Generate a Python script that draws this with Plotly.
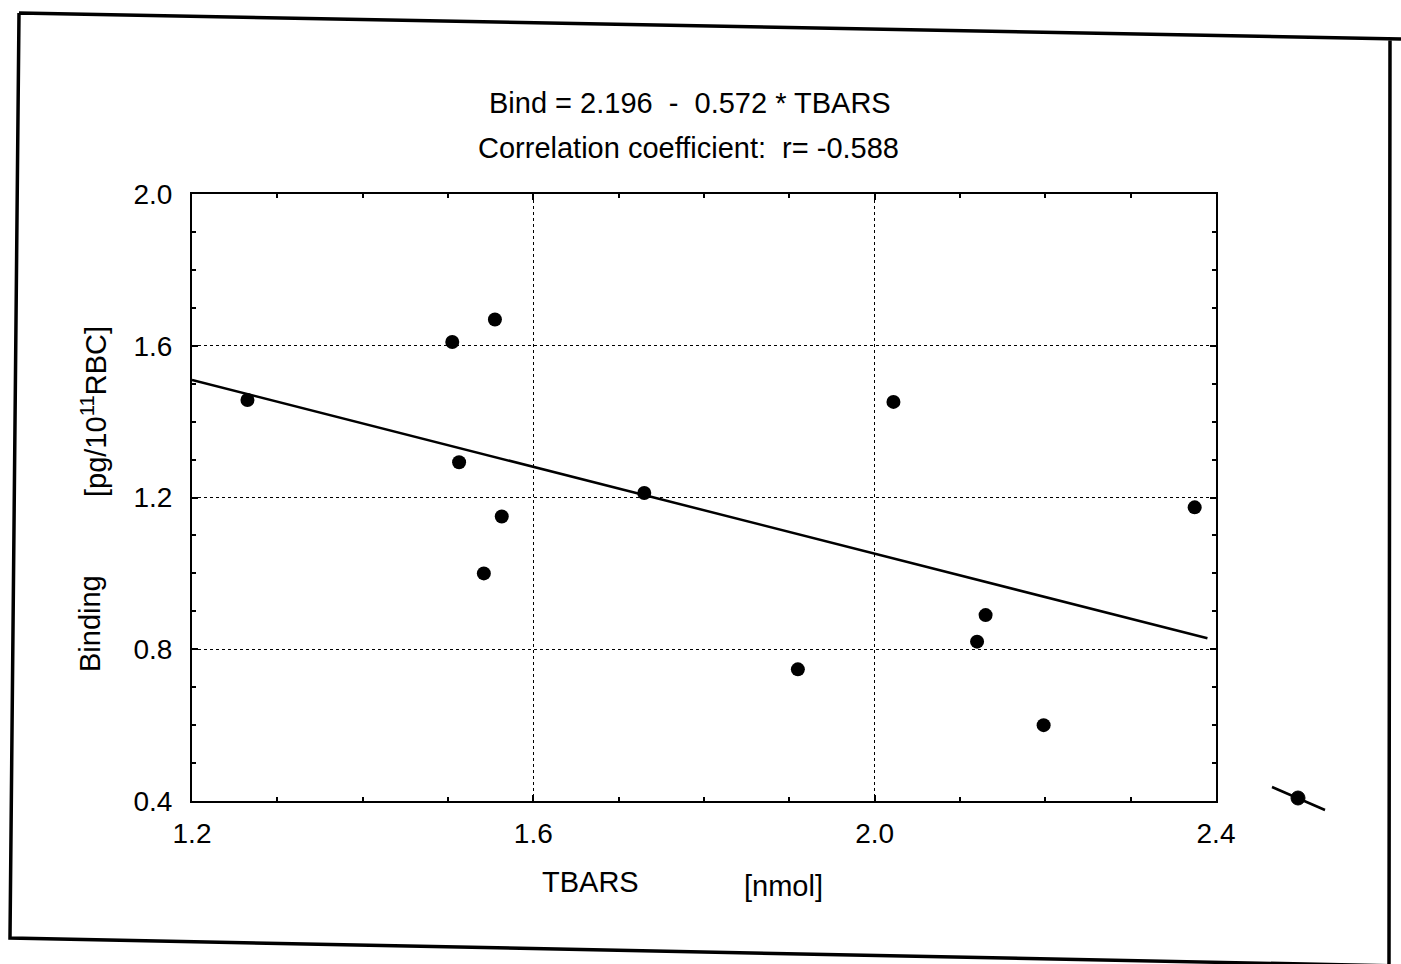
import plotly.graph_objects as go

# ---- data ----
tbars = [1.265, 1.505, 1.555, 1.513, 1.563, 1.542, 1.73, 2.022, 1.91, 2.13, 2.12, 2.198, 2.375]
binding = [1.457, 1.61, 1.669, 1.293, 1.15, 1.0, 1.212, 1.452, 0.747, 0.89, 0.82, 0.60, 1.174]
intercept = 2.196
slope = -0.572
fit_x = [1.2, 2.39]
fit_y = [intercept + slope * v for v in fit_x]
x_ticks = [1.2, 1.6, 2.0, 2.4]
y_ticks = [0.4, 0.8, 1.2, 1.6, 2.0]

W, H = 1401, 964
L, R, T, B = 192, 1216, 194, 801
FONT = "Liberation Sans, Arial, sans-serif"


def px(x):
    return (x - L) / (R - L)


def py(y):
    return (B - y) / (B - T)


fig = go.Figure()
fig.add_trace(go.Scatter(x=fit_x, y=fit_y, mode="lines",
                         line=dict(color="black", width=2.5), showlegend=False))
fig.add_trace(go.Scatter(x=tbars, y=binding, mode="markers",
                         marker=dict(color="black", size=14), showlegend=False))

axis_common = dict(
    showline=True, linecolor="black", linewidth=2, mirror="allticks",
    showgrid=True, gridcolor="black", griddash="dot", gridwidth=1.3,
    ticks="inside", ticklen=6, tickcolor="black", tickwidth=1.5,
    tickformat=".1f", zeroline=False,
    tickfont=dict(family=FONT, size=28, color="black"),
    minor=dict(dtick=0.1, ticks="inside", ticklen=4, tickcolor="black", showgrid=False),
)
fig.update_xaxes(range=[1.2, 2.4], tickvals=x_ticks, ticklabelstandoff=6, **axis_common)
fig.update_yaxes(range=[0.4, 2.0], tickvals=y_ticks, ticklabelstandoff=12, **axis_common)

ann = [
    dict(text="Bind = 2.196  -  0.572 * TBARS", x=px(690), y=py(103), size=29),
    dict(text="Correlation coefficient:  r= -0.588", x=px(688), y=py(148), size=29),
    dict(text="TBARS", x=px(590), y=py(882), size=29),
    dict(text="[nmol]", x=px(783), y=py(886), size=29),
    dict(text="Binding", x=px(90), y=py(624), size=29, angle=-90),
    dict(text="[pg/10<sup>11</sup>RBC]", x=px(94), y=py(412), size=29, angle=-90),
]
annotations = []
for a in ann:
    annotations.append(dict(
        text=a["text"], x=a["x"], y=a["y"], xref="paper", yref="paper",
        xanchor="center", yanchor="middle", showarrow=False,
        textangle=a.get("angle", 0),
        font=dict(family=FONT, size=a["size"], color="black"),
    ))

# scanned page border
border_path = "M {},{} L {},{} M {},{} L {},{} M {},{} L {},{} L {},{}".format(
    px(19), py(13), px(1401), py(39),
    px(1390), py(40), px(1389), py(964),
    px(1401), py(966), px(10), py(938), px(19), py(13),
)
shapes = [
    dict(type="path", xref="paper", yref="paper", path=border_path,
         line=dict(color="black", width=3.5)),
    # legend-like symbol at bottom right
    dict(type="line", xref="paper", yref="paper",
         x0=px(1272), y0=py(787), x1=px(1325), y1=py(810),
         line=dict(color="black", width=2.5)),
    dict(type="circle", xref="paper", yref="paper",
         x0=px(1291), y0=py(791), x1=px(1305), y1=py(805),
         fillcolor="black", line=dict(color="black", width=1)),
]

fig.update_layout(
    width=W, height=H,
    margin=dict(l=L, r=W - R, t=T, b=H - B),
    paper_bgcolor="white", plot_bgcolor="white",
    annotations=annotations, shapes=shapes,
    font=dict(family=FONT, color="black"),
)

fig.write_html("out.html")
